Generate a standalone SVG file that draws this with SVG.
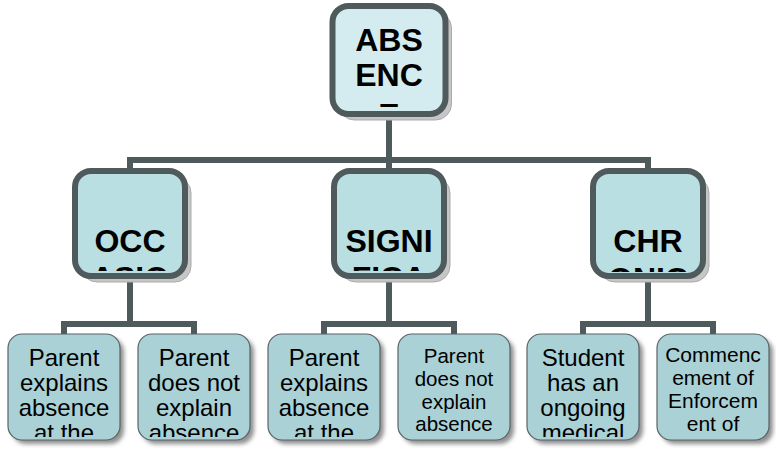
<svg xmlns="http://www.w3.org/2000/svg" width="776" height="452" viewBox="0 0 776 452">
<style>
.bg{fill:#ffffff}
.conn{fill:none;stroke:#4e5a5b;stroke-width:6;stroke-linejoin:miter}
.top{fill:#d4ecef;stroke:#4e5a5b;stroke-width:6}
.mid{fill:#b9dfe3;stroke:#4e5a5b;stroke-width:6}
.bshadow{fill:#c6c6c6;stroke:#ababab;stroke-width:1}
.leaf{fill:#a9d1d6;stroke:#5a6366;stroke-width:1.2}
.lshadow{fill:#8f8f8f;filter:url(#blur)}
.big{font-family:"Liberation Sans",Arial,sans-serif;font-weight:bold;font-size:32px;fill:#000;text-anchor:middle}
.small{font-family:"Liberation Sans",Arial,sans-serif;font-size:24px;fill:#000;text-anchor:middle}
.smaller{font-family:"Liberation Sans",Arial,sans-serif;font-size:20.5px;fill:#000;text-anchor:middle}
</style>
<defs>
<filter id="blur" x="-20%" y="-20%" width="140%" height="140%"><feGaussianBlur stdDeviation="2"/></filter>
<clipPath id="cTop"><rect x="335" y="9" width="107" height="98"/></clipPath>
<clipPath id="c1"><rect x="78" y="174" width="104" height="97"/></clipPath>
<clipPath id="c2"><rect x="337" y="174" width="104" height="97"/></clipPath>
<clipPath id="c3"><rect x="596" y="174" width="104" height="98"/></clipPath>
<clipPath id="l1"><rect x="9" y="336" width="110" height="101"/></clipPath>
<clipPath id="l2"><rect x="139" y="336" width="110" height="101"/></clipPath>
<clipPath id="l3"><rect x="269" y="336" width="110" height="101"/></clipPath>
<clipPath id="l5"><rect x="528" y="336" width="110" height="101"/></clipPath>
</defs>
<rect class="bg" x="0" y="0" width="776" height="452"/>

<g id="connectors">
<path class="conn" d="M389 114 V171 M130 171 V160 H648 V171"/>
<path class="conn" d="M130 276 V324 M64 334 V324 H194 V334"/>
<path class="conn" d="M389 276 V324 M324 334 V324 H454 V334"/>
<path class="conn" d="M648 276 V324 M583 334 V324 H713 V334"/>
</g>

<g id="absence">
<rect class="bshadow" x="338.5" y="12" width="113" height="108" rx="16"/>
<rect class="top" x="332.5" y="6" width="113" height="108" rx="16"/>
<g clip-path="url(#cTop)">
<text class="big" x="389" y="51">ABS</text>
<text class="big" x="389" y="86">ENC</text>
<text class="big" x="389" y="126">E</text>
</g>
</g>

<g id="occasional">
<rect class="bshadow" x="81" y="177" width="110" height="105" rx="16"/>
<rect class="mid" x="75" y="171" width="110" height="105" rx="16"/>
<g clip-path="url(#c1)">
<text class="big" x="130" y="252">OCC</text>
<text class="big" x="130" y="289">ASIO</text>
</g>
</g>

<g id="significant">
<rect class="bshadow" x="340" y="177" width="110" height="105" rx="16"/>
<rect class="mid" x="334" y="171" width="110" height="105" rx="16"/>
<g clip-path="url(#c2)">
<text class="big" x="389" y="252">SIGNI</text>
<text class="big" x="389" y="289">FICA</text>
</g>
</g>

<g id="chronic">
<rect class="bshadow" x="599" y="177" width="110" height="105" rx="16"/>
<rect class="mid" x="593" y="171" width="110" height="105" rx="16"/>
<g clip-path="url(#c3)">
<text class="big" x="648" y="252">CHR</text>
<text class="big" x="648" y="290">ONIC</text>
</g>
</g>

<g id="leaf1">
<rect class="lshadow" x="12" y="338" width="112" height="106" rx="14"/>
<rect class="leaf" x="8" y="334" width="112" height="106" rx="14"/>
<g clip-path="url(#l1)">
<text class="small" x="64" y="366">Parent</text>
<text class="small" x="64" y="391">explains</text>
<text class="small" x="64" y="416">absence</text>
<text class="small" x="64" y="441">at the</text>
</g>
</g>

<g id="leaf2">
<rect class="lshadow" x="142" y="338" width="112" height="106" rx="14"/>
<rect class="leaf" x="138" y="334" width="112" height="106" rx="14"/>
<g clip-path="url(#l2)">
<text class="small" x="194" y="366">Parent</text>
<text class="small" x="194" y="391">does not</text>
<text class="small" x="194" y="416">explain</text>
<text class="small" x="194" y="441">absence</text>
</g>
</g>

<g id="leaf3">
<rect class="lshadow" x="272" y="338" width="112" height="106" rx="14"/>
<rect class="leaf" x="268" y="334" width="112" height="106" rx="14"/>
<g clip-path="url(#l3)">
<text class="small" x="324" y="366">Parent</text>
<text class="small" x="324" y="391">explains</text>
<text class="small" x="324" y="416">absence</text>
<text class="small" x="324" y="441">at the</text>
</g>
</g>

<g id="leaf4">
<rect class="lshadow" x="402" y="338" width="112" height="106" rx="14"/>
<rect class="leaf" x="398" y="334" width="112" height="106" rx="14"/>
<text class="smaller" x="454" y="363">Parent</text>
<text class="smaller" x="454" y="386">does not</text>
<text class="smaller" x="454" y="409">explain</text>
<text class="smaller" x="454" y="431">absence</text>
</g>

<g id="leaf5">
<rect class="lshadow" x="531" y="338" width="112" height="106" rx="14"/>
<rect class="leaf" x="527" y="334" width="112" height="106" rx="14"/>
<g clip-path="url(#l5)">
<text class="small" x="583" y="366">Student</text>
<text class="small" x="583" y="391">has an</text>
<text class="small" x="583" y="416">ongoing</text>
<text class="small" x="583" y="441">medical</text>
</g>
</g>

<g id="leaf6">
<rect class="lshadow" x="661" y="338" width="112" height="106" rx="14"/>
<rect class="leaf" x="657" y="334" width="112" height="106" rx="14"/>
<text class="smaller" x="713" y="362" style="font-size:21px">Commenc</text>
<text class="smaller" x="713" y="385" style="font-size:21px">ement of</text>
<text class="smaller" x="713" y="408" style="font-size:21px">Enforcem</text>
<text class="smaller" x="713" y="431" style="font-size:21px">ent of</text>
</g>
</svg>
